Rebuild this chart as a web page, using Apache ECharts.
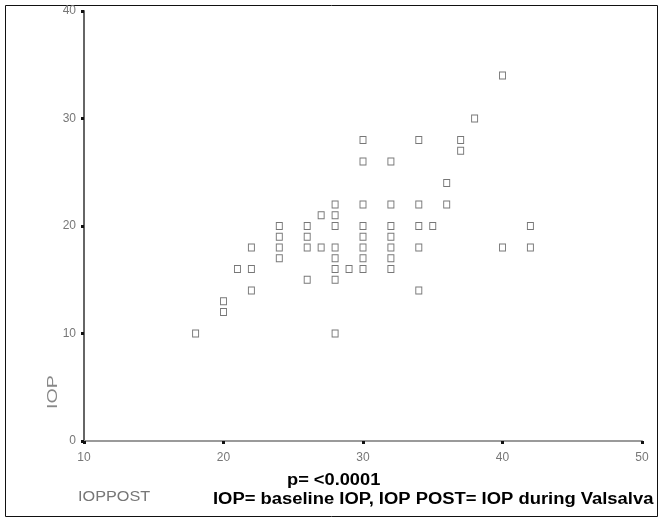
<!DOCTYPE html>
<html>
<head>
<meta charset="utf-8">
<script src="https://cdn.jsdelivr.net/npm/echarts@6/dist/echarts.min.js"></script>
<style>
  html, body { margin: 0; padding: 0; background: #fff; }
  #container { width: 661px; height: 520px; }
</style>
</head>
<body>
<div id="container"></div>
<script>
var dom = document.getElementById("container");
var myChart = echarts.init(dom);

// IOP POST (x) and baseline IOP (y)
var iopPost = [18, 20, 20, 21, 22, 22, 22,
    24, 24, 24, 24, 26, 26, 26, 26, 27, 27,
    28, 28, 28, 28, 28, 28, 28, 28, 29,
    30, 30, 30, 30, 30, 30, 30, 30,
    32, 32, 32, 32, 32, 32, 32,
    34, 34, 34, 34, 34, 35, 36, 36, 37, 37, 38,
    40, 40, 42, 42];
var iop = [10, 12, 13, 16, 14, 16, 18,
    17, 18, 19, 20, 15, 18, 19, 20, 18, 21,
    10, 15, 16, 17, 18, 20, 21, 22, 16,
    16, 17, 18, 19, 20, 22, 26, 28,
    16, 17, 18, 19, 20, 22, 26,
    14, 18, 20, 22, 28, 20, 22, 24, 27, 28, 30,
    18, 34, 18, 20];
var xTicks = [10, 20, 30, 40, 50];
var yTicks = [0, 10, 20, 30, 40];

var points = [];
for (var i = 0; i < iopPost.length; i++) {
    points.push([iopPost[i], iop[i]]);
}

var option = {
    animation: false,
    grid: {
        left: 84,
        right: 19,
        top: 11,
        bottom: 79
    },
    xAxis: {
        type: 'value',
        min: xTicks[0],
        max: xTicks[xTicks.length - 1],
        interval: 10,
        splitLine: { show: false },
        axisLine: { lineStyle: { color: '#9a9a9a', width: 2 } },
        axisTick: { length: 3, lineStyle: { color: '#111', width: 3 } },
        axisLabel: {
            color: '#777',
            fontSize: 12,
            fontFamily: 'Liberation Sans',
            margin: 11
        }
    },
    yAxis: {
        type: 'value',
        min: yTicks[0],
        max: yTicks[yTicks.length - 1],
        interval: 10,
        splitLine: { show: false },
        axisLine: { lineStyle: { color: '#666', width: 2 } },
        axisTick: { length: 3, lineStyle: { color: '#111', width: 3 } },
        axisLabel: {
            color: '#777',
            fontSize: 12,
            fontFamily: 'Liberation Sans',
            margin: 8
        }
    },
    graphic: [
        {
            type: 'rect',
            shape: { x: 5.5, y: 5.5, width: 652, height: 511 },
            style: { fill: 'none', stroke: '#111', lineWidth: 1 },
            silent: true
        },
        {
            type: 'text',
            x: 53, y: 392,
            rotation: Math.PI / 2,
            scaleX: 1.4,
            style: {
                text: 'IOP', fill: '#888', font: '14px "Liberation Sans"',
                align: 'center', verticalAlign: 'middle'
            }
        },
        {
            type: 'text',
            x: 78, y: 497,
            scaleX: 1.16,
            style: {
                text: 'IOPPOST', fill: '#777', font: '14px "Liberation Sans"',
                verticalAlign: 'middle'
            }
        },
        {
            type: 'text',
            x: 287, y: 481,
            scaleX: 1.14,
            style: {
                text: 'p= <0.0001', fill: '#000', font: 'bold 16px "Liberation Sans"',
                verticalAlign: 'middle'
            }
        },
        {
            type: 'text',
            x: 213, y: 500,
            scaleX: 1.15,
            style: {
                text: 'IOP= baseline IOP, IOP POST= IOP during Valsalva',
                fill: '#000', font: 'bold 16px "Liberation Sans"',
                verticalAlign: 'middle'
            }
        }
    ],
    series: [
        {
            name: 'IOP',
            type: 'scatter',
            data: points,
            symbol: 'rect',
            symbolSize: [6, 7],
            itemStyle: {
                color: '#fff',
                borderColor: '#555',
                borderWidth: 1
            }
        }
    ]
};

myChart.setOption(option);
</script>
</body>
</html>
